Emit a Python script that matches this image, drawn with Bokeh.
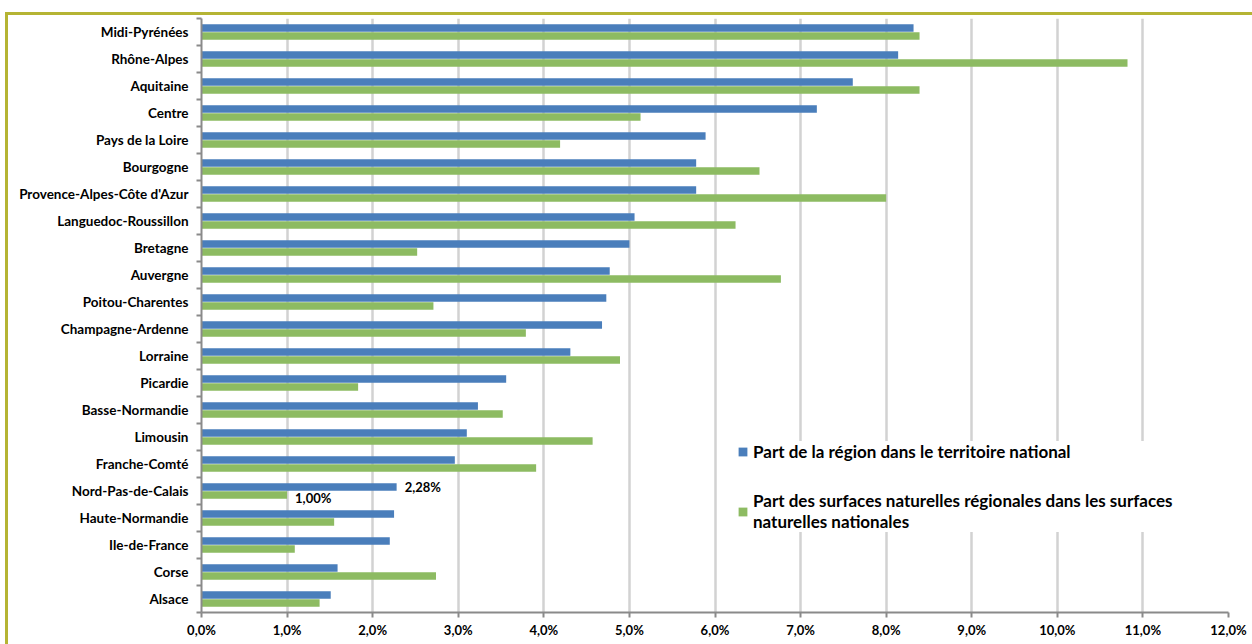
from bokeh.plotting import figure
from bokeh.models import (Range1d, FixedTicker, ColumnDataSource, Legend, LegendItem,
                          LabelSet, CustomJSTickFormatter)
from bokeh.core.properties import value
from bokeh.embed import file_html
from bokeh.resources import INLINE

# ---- data (top to bottom, as in the chart) ----
regions = ["Midi-Pyrénées", "Rhône-Alpes", "Aquitaine", "Centre", "Pays de la Loire",
           "Bourgogne", "Provence-Alpes-Côte d'Azur", "Languedoc-Roussillon", "Bretagne",
           "Auvergne", "Poitou-Charentes", "Champagne-Ardenne", "Lorraine", "Picardie",
           "Basse-Normandie", "Limousin", "Franche-Comté", "Nord-Pas-de-Calais",
           "Haute-Normandie", "Ile-de-France", "Corse", "Alsace"]
share_territory = [8.32, 8.14, 7.61, 7.19, 5.89, 5.78, 5.78, 5.06, 5.00, 4.77, 4.73,
                   4.68, 4.31, 3.56, 3.23, 3.10, 2.96, 2.28, 2.25, 2.20, 1.59, 1.51]
share_natural = [8.39, 10.82, 8.39, 5.13, 4.19, 6.52, 8.00, 6.24, 2.52, 6.77, 2.71,
                 3.79, 4.89, 1.83, 3.52, 4.57, 3.91, 1.00, 1.55, 1.09, 2.74, 1.38]
series_names = ["Part de la région dans le territoire national",
                "Part des surfaces naturelles régionales dans les surfaces\nnaturelles nationales"]
x_ticks = list(range(0, 13))
labelled_region = "Nord-Pas-de-Calais"

BLUE = "#4a7ebb"
GREEN = "#8dbb62"
OLIVE = "#b5b434"
FONT = "Lato"

n = len(regions)
ypos = [n - 1 - i for i in range(n)]
src = ColumnDataSource(dict(
    region=regions, a=share_territory, b=share_natural,
    ya=[y + 0.145 for y in ypos], yb=[y - 0.145 for y in ypos]))

p = figure(width=1252, height=644, x_range=Range1d(0, 12), y_range=Range1d(-0.5, n - 0.5),
           output_backend="svg", toolbar_location=None,
           min_border_left=201, min_border_right=24, min_border_top=18, min_border_bottom=32)
p.outline_line_color = None
p.background_fill_color = "white"
p.border_fill_alpha = 0
p.styles = {
    "background-color": "white",
    "box-shadow": (f"inset 0 12px 0 0 white, inset 5px 0 0 0 white, "
                   f"inset 0 15px 0 0 {OLIVE}, inset 8px 0 0 0 {OLIVE}"),
}

ra = p.hbar(y="ya", left=0, right="a", height=0.28, source=src, fill_color=BLUE, line_color=None)
rb = p.hbar(y="yb", left=0, right="b", height=0.28, source=src, fill_color=GREEN, line_color=None)

# data labels for one region
k = regions.index(labelled_region)
def fmt(v):
    return f"{v:.2f}%".replace(".", ",")
lab_src = ColumnDataSource(dict(
    x=[share_territory[k], share_natural[k]],
    y=[ypos[k] + 0.145, ypos[k] - 0.145],
    t=[fmt(share_territory[k]), fmt(share_natural[k])],
    dy=[0, -3]))
p.add_layout(LabelSet(x="x", y="y", text="t", source=lab_src, x_offset=8, y_offset="dy",
                      text_font=value(FONT), text_font_style="bold", text_font_size="13px",
                      text_baseline="middle", text_color="#000000"))

# x axis
xa = p.xaxis[0]
xa.ticker = FixedTicker(ticks=x_ticks)
xa.formatter = CustomJSTickFormatter(code="return tick.toFixed(1).replace('.', ',') + '%';")
xa.axis_line_color = "#8a8a8a"
xa.axis_line_width = 2
xa.major_tick_line_color = "#8a8a8a"
xa.major_tick_line_width = 2
xa.major_tick_in = 0
xa.major_tick_out = 5
xa.minor_tick_line_color = None
xa.major_label_text_font = FONT
xa.major_label_text_font_style = "bold"
xa.major_label_text_font_size = "13px"
xa.major_label_text_color = "#000000"
xa.major_label_standoff = 4

# y axis: labels at centres, tick marks between categories
ya = p.yaxis[0]
ya.ticker = FixedTicker(ticks=ypos, minor_ticks=[i - 0.5 for i in range(n + 1)])
ya.major_label_overrides = {y: r for y, r in zip(ypos, regions)}
ya.axis_line_color = "#8a8a8a"
ya.axis_line_width = 2
ya.major_tick_line_color = None
ya.major_tick_in = 0
ya.major_tick_out = 0
ya.minor_tick_line_color = "#8a8a8a"
ya.minor_tick_line_width = 2
ya.minor_tick_in = 0
ya.minor_tick_out = 5
ya.major_label_text_font = FONT
ya.major_label_text_font_style = "bold"
ya.major_label_text_font_size = "13.5px"
ya.major_label_text_color = "#000000"
ya.major_label_standoff = 8

p.ygrid.grid_line_color = None
p.xgrid.ticker = FixedTicker(ticks=x_ticks)
p.xgrid.grid_line_color = "#d2d2d2"
p.xgrid.grid_line_width = 2.5

legend = Legend(items=[LegendItem(label=series_names[0], renderers=[ra]),
                       LegendItem(label=series_names[1], renderers=[rb])],
                location=(536, 80), orientation="vertical")
legend.label_text_font = FONT
legend.label_text_font_style = "bold"
legend.label_text_font_size = "17px"
legend.label_text_color = "#000000"
legend.label_text_line_height = 1.35
legend.glyph_width = 11
legend.glyph_height = 11
legend.label_standoff = 5
legend.spacing = 28
legend.padding = 6
legend.margin = 0
legend.border_line_color = None
legend.background_fill_color = "white"
legend.background_fill_alpha = 1
p.add_layout(legend)

open("out.html", "w").write(file_html(p, INLINE))
